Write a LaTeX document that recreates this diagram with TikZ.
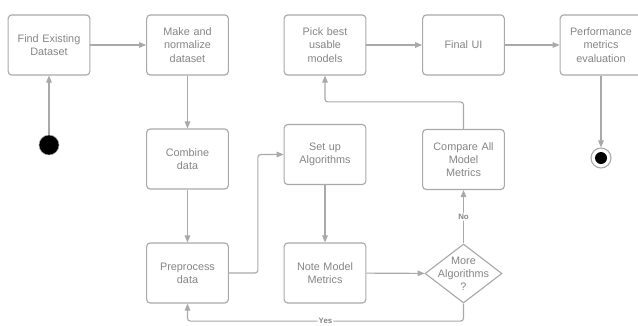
\documentclass[tikz,border=0pt]{standalone}
\usepackage{fontspec}
\setmainfont{Liberation Sans}
\usetikzlibrary{arrows.meta,shapes.geometric}
\definecolor{lineg}{HTML}{A9A9A9}
\definecolor{textg}{HTML}{858585}
\begin{document}
\begin{tikzpicture}[x=0.025cm, y=-0.025cm,
        stepbox/.style={rectangle, draw=lineg, line width=0.8pt, rounded corners=2.5pt,
          minimum width=2cm, minimum height=1.5cm,
          text width=1.9cm, align=center, inner sep=2pt,
          font=\fontsize{7.7}{9.4}\selectfont, text=textg, fill=white},
        decision/.style={diamond, draw=lineg, line width=0.8pt, aspect=1.3,
          inner sep=-3.6pt, align=center,
          font=\fontsize{7.7}{9.4}\selectfont, text=textg, fill=white},
        arrow/.style={-{Triangle[length=5pt,width=4pt]}, draw=lineg, line width=0.8pt,
          rounded corners=2pt},
        lab/.style={font=\fontsize{5.6}{6}\selectfont\bfseries, text=textg,
          fill=white, inner sep=0.8pt}
      ]
      \useasboundingbox (0,0) rectangle (638,325);
      % top row
      \node[stepbox] (find) at (49,  45) {Find Existing\\Dataset};
      \node[stepbox] (make) at (187.5,45) {Make and\\normalize\\dataset};
      \node[stepbox] (pick) at (325, 45) {Pick best\\usable\\models};
      \node[stepbox] (ui)   at (463.5,45) {Final UI};
      \node[stepbox] (perf) at (601, 45) {Performance\\metrics\\evaluation};
      % middle row
      \node[stepbox] (comb)  at (187.5,159) {Combine\\data};
      \node[stepbox] (setup) at (325, 154.5) {Set up\\Algorithms};
      \node[stepbox] (cmp)   at (463.5,159.5) {Compare All\\Model\\Metrics};
      % bottom row
      \node[stepbox] (prep) at (187.5,273) {Preprocess\\data};
      \node[stepbox] (note) at (325, 273) {Note Model\\Metrics};
      \node[decision, minimum width=1.925cm, minimum height=1.475cm]
        (more) at (463.5,273.5) {More\\Algorithms\\?};
      % start and end
      \node[circle, fill=black, draw=lineg, line width=0.4pt, minimum size=0.5cm,
        inner sep=0pt] (start) at (49,145) {};
      \node[circle, fill=white, draw=lineg, line width=0.8pt, minimum size=0.5cm,
        inner sep=0pt] (stop) at (601,158) {};
      \node[circle, fill=black, minimum size=0.3cm, inner sep=0pt] (stopin) at (stop) {};
      % connectors
      \draw[arrow] (start) -- (find);
      \draw[arrow] (find) -- (make);
      \draw[arrow] (make) -- (comb);
      \draw[arrow] (comb) -- (prep);
      \draw[arrow] (prep.east) -- ++(29,0) |- (setup.west);
      \draw[arrow] (setup) -- (note);
      \draw[arrow] (note) -- (more);
      \draw[arrow] (more) -- node[lab] {No} (cmp);
      \draw[arrow] (more.south) -- ++(0,17.5) -| node[pos=0.25, lab] {Yes} (prep.south);
      \draw[arrow] (cmp.north) -- ++(0,-27) -| (pick.south);
      \draw[arrow] (pick) -- (ui);
      \draw[arrow] (ui) -- (perf);
      \draw[arrow] (perf) -- (stop);
    \end{tikzpicture}
\end{document}
